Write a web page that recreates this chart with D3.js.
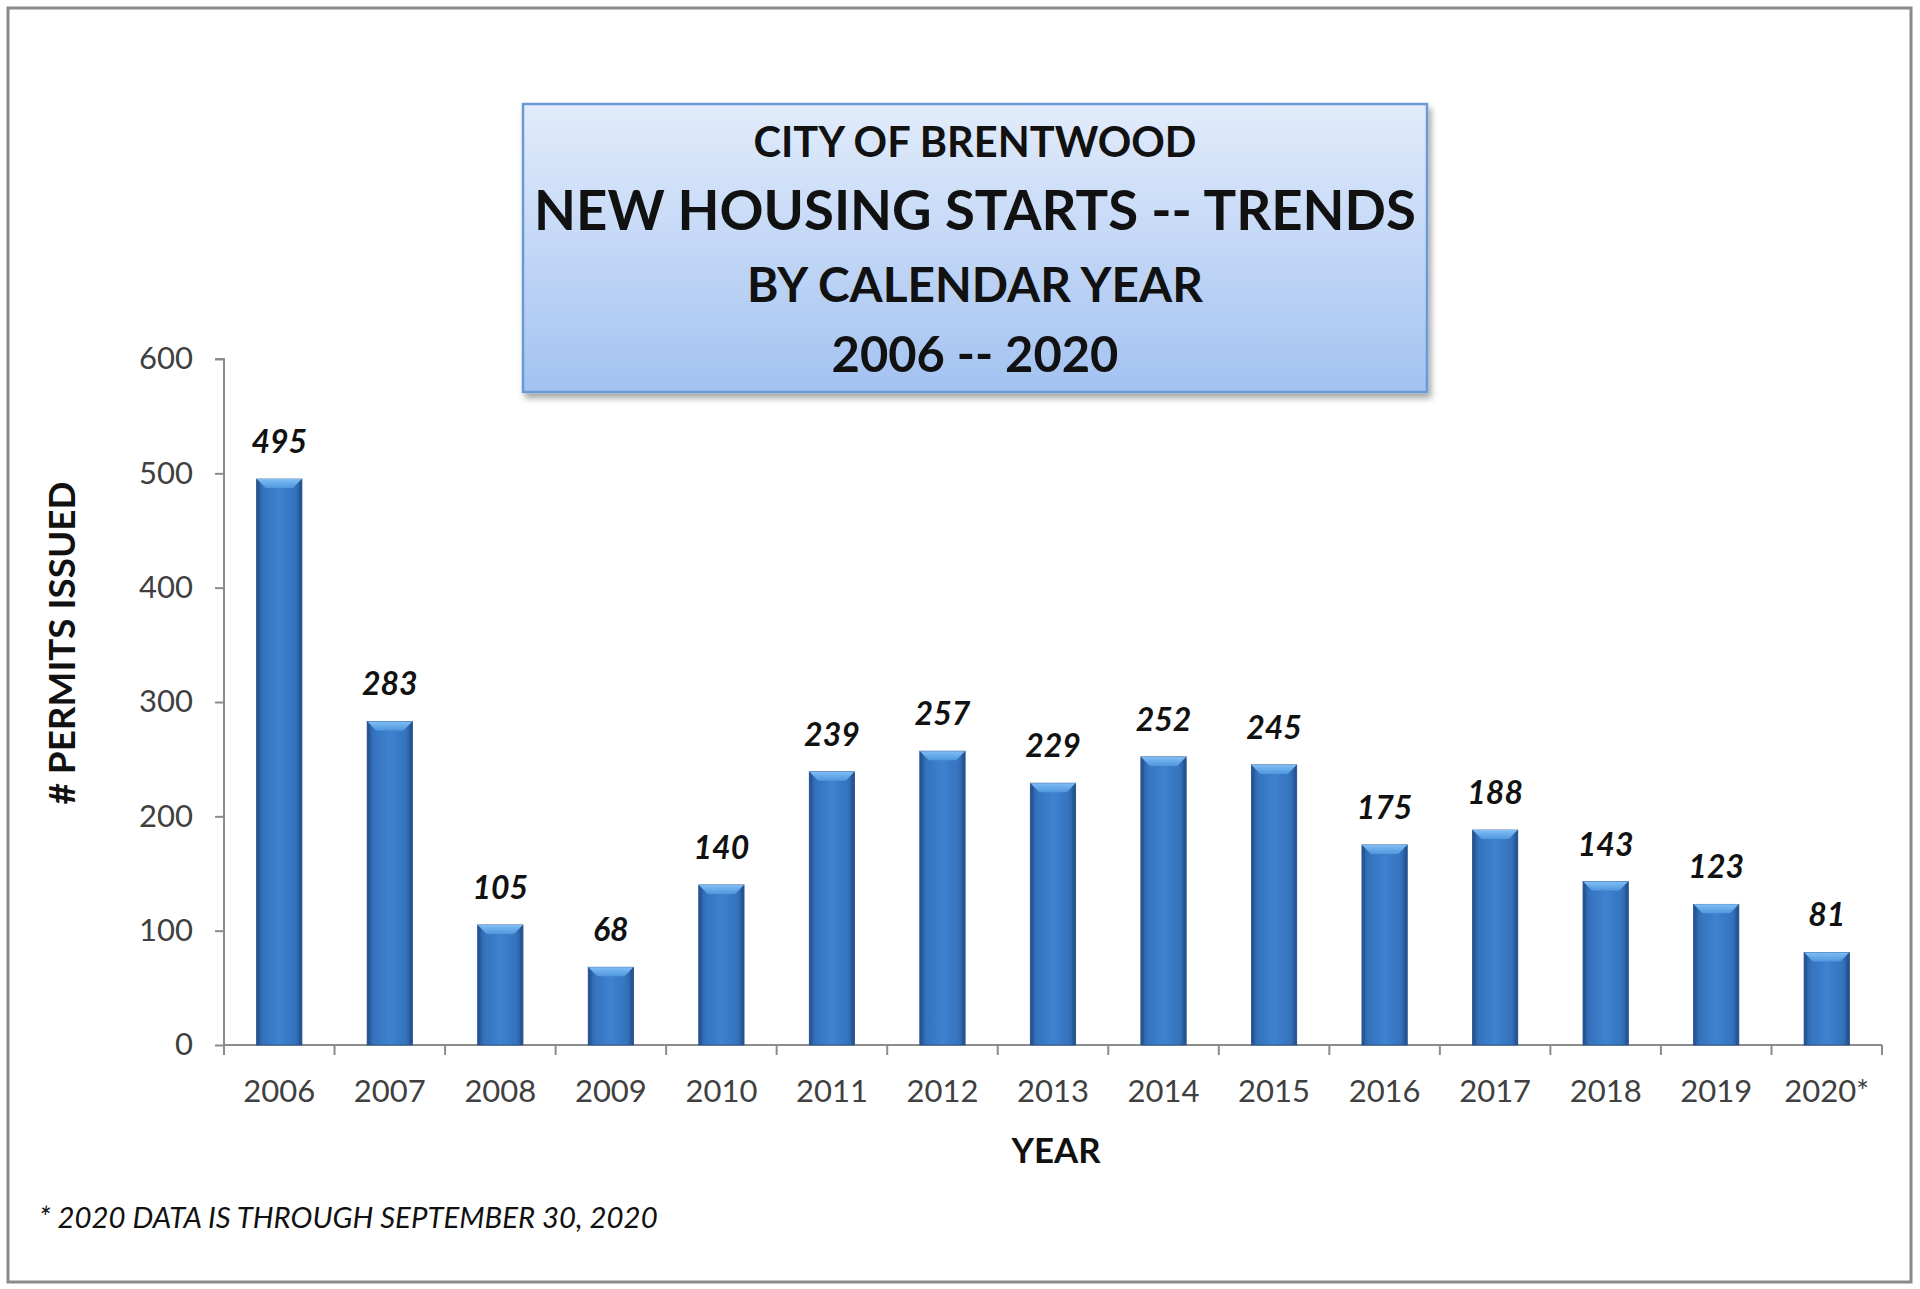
<!DOCTYPE html>
<html>
<head>
<meta charset="utf-8">
<script src="https://cdn.jsdelivr.net/npm/d3@7"></script>
<style>
html,body{margin:0;padding:0;background:#fff;}
svg{display:block;}
text{font-family:Lato,"Open Sans",sans-serif;}
</style>
</head>
<body>
<script>
const years = ["2006","2007","2008","2009","2010","2011","2012","2013","2014","2015","2016","2017","2018","2019","2020*"];
const permits = [495,283,105,68,140,239,257,229,252,245,175,188,143,123,81];
const yTicks = [0,100,200,300,400,500,600];
const titleLines = ["CITY OF BRENTWOOD","NEW HOUSING STARTS -- TRENDS","BY CALENDAR YEAR","2006 -- 2020"];
const yAxisTitle = "# PERMITS ISSUED";
const xAxisTitle = "YEAR";
const footnote = "* 2020 DATA IS THROUGH SEPTEMBER 30, 2020";

const W = 1920, H = 1289;
const svg = d3.select("body").append("svg").attr("width", W).attr("height", H);
const defs = svg.append("defs");

// gradients
const barGrad = defs.append("linearGradient").attr("id","barGrad").attr("x1","0").attr("x2","1").attr("y1","0").attr("y2","0");
barGrad.append("stop").attr("offset","0").attr("stop-color","#28599a");
barGrad.append("stop").attr("offset","0.15").attr("stop-color","#3573bd");
barGrad.append("stop").attr("offset","0.5").attr("stop-color","#3e82d0");
barGrad.append("stop").attr("offset","0.85").attr("stop-color","#3573bd");
barGrad.append("stop").attr("offset","1").attr("stop-color","#265696");
const bevGrad = defs.append("linearGradient").attr("id","bevGrad").attr("x1","0").attr("x2","0").attr("y1","0").attr("y2","1");
bevGrad.append("stop").attr("offset","0").attr("stop-color","#80bef6");
bevGrad.append("stop").attr("offset","1").attr("stop-color","#5097de");
const boxGrad = defs.append("linearGradient").attr("id","boxGrad").attr("x1","0").attr("x2","0").attr("y1","0").attr("y2","1");
boxGrad.append("stop").attr("offset","0").attr("stop-color","#e2ecfb");
boxGrad.append("stop").attr("offset","1").attr("stop-color","#a3c2f1");
const shadow = defs.append("filter").attr("id","shadow").attr("x","-5%").attr("y","-5%").attr("width","115%").attr("height","120%");
shadow.append("feDropShadow").attr("dx",3).attr("dy",5).attr("stdDeviation",3).attr("flood-color","#000").attr("flood-opacity",0.35);

// outer border
svg.append("rect").attr("x",8).attr("y",8).attr("width",1903).attr("height",1274)
  .attr("fill","#fff").attr("stroke","#8a8a8a").attr("stroke-width",3);

// scales
const plot = {left:224, right:1882, top:359, bottom:1045};
const x = d3.scaleBand().domain(years).range([plot.left, plot.right]).paddingInner(0.59).paddingOuter(0.295);
const xb = d3.scaleBand().domain(years).range([plot.left, plot.right]);
const y = d3.scaleLinear().domain([0,600]).range([plot.bottom, plot.top]);

// y axis
const yAxis = svg.append("g").attr("transform",`translate(${plot.left},0)`)
  .call(d3.axisLeft(y).tickValues(yTicks).tickSize(9).tickPadding(22).tickFormat(d3.format("d")));
yAxis.select(".domain").attr("stroke","#8c8c8c").attr("stroke-width",2).attr("d",`M-9,${plot.top}H0V${plot.bottom}`);
yAxis.selectAll(".tick line").attr("stroke","#8c8c8c").attr("stroke-width",2);
yAxis.selectAll(".tick text").attr("font-size",31).attr("fill","#404040").attr("font-family","Lato");

// x axis
const xAxis = svg.append("g").attr("transform",`translate(0,${plot.bottom})`)
  .call(d3.axisBottom(xb).tickSize(0).tickPadding(35));
xAxis.select(".domain").attr("stroke","#8c8c8c").attr("stroke-width",2).attr("d",`M${plot.left},0H${plot.right}`);
xAxis.selectAll(".tick text").attr("font-size",31).attr("fill","#404040").attr("font-family","Lato");
// boundary ticks
svg.append("g").selectAll("line").data(years.concat(["end"])).join("line")
  .attr("x1",(d,i)=> i<years.length ? xb(d) : plot.right)
  .attr("x2",(d,i)=> i<years.length ? xb(d) : plot.right)
  .attr("y1",plot.bottom).attr("y2",plot.bottom+10)
  .attr("stroke","#8c8c8c").attr("stroke-width",2);

// bars
const bars = svg.append("g");
const bw = x.bandwidth();
bars.selectAll("rect.bar").data(permits).join("rect").attr("class","bar")
  .attr("x",(d,i)=>x(years[i])).attr("y",d=>y(d))
  .attr("width",bw).attr("height",d=>plot.bottom-y(d))
  .attr("fill","url(#barGrad)").attr("stroke","#2a5590").attr("stroke-width",0.8);
// top bevel
const bev = 9;
bars.selectAll("path.bev").data(permits).join("path").attr("class","bev")
  .attr("d",(d,i)=>{
    const x0=x(years[i]), x1=x0+bw, t=y(d);
    return `M${x0},${t}H${x1}L${x1-bev},${t+bev}H${x0+bev}Z`;
  }).attr("fill","url(#bevGrad)");
// side edges darker
bars.selectAll("path.side").data(permits).join("path").attr("class","side")
  .attr("d",(d,i)=>{
    const x0=x(years[i]), x1=x0+bw, t=y(d);
    return `M${x0},${t}L${x0+3},${t+3}V${plot.bottom}H${x0}Z M${x1},${t}L${x1-3},${t+3}V${plot.bottom}H${x1}Z`;
  }).attr("fill","#24508c").attr("opacity",0.6);

// value labels
svg.append("g").selectAll("text").data(permits).join("text")
  .attr("x",(d,i)=>x(years[i])+bw/2).attr("y",d=>y(d)-26)
  .attr("text-anchor","middle").attr("font-size",32).attr("font-weight","bold").attr("font-style","italic")
  .attr("fill","#111").text(d=>d);

// axis titles
svg.append("text").attr("transform","translate(75,643) rotate(-90)").attr("text-anchor","middle")
  .attr("font-size",33).attr("font-weight","bold").attr("fill","#111").text(yAxisTitle)
  .each(function(){fit(this,323);});
svg.append("text").attr("x",1056).attr("y",1163).attr("text-anchor","middle")
  .attr("font-size",34).attr("font-weight","bold").attr("fill","#111").text(xAxisTitle)
  .each(function(){fit(this,89);});

// footnote
svg.append("text").attr("x",39).attr("y",1228).attr("font-size",25).attr("font-style","italic")
  .attr("fill","#111").text(footnote).each(function(){fit(this,619);});

// title box
const box = {x:523,y:104,w:904,h:288};
svg.append("rect").attr("x",box.x).attr("y",box.y).attr("width",box.w).attr("height",box.h)
  .attr("fill","url(#boxGrad)").attr("stroke","#6b9ad6").attr("stroke-width",2.5).attr("filter","url(#shadow)");
const titleBase = [157,230,302,372];
const titleWidth = [443,882,456,287];
const titleSize = [40,56,47,51];
svg.append("g").selectAll("text").data(titleLines).join("text")
  .attr("x",box.x+box.w/2).attr("y",(d,i)=>titleBase[i]).attr("text-anchor","middle")
  .attr("font-size",(d,i)=>titleSize[i]).attr("font-weight","bold").attr("fill","#111").text(d=>d)
  .each(function(d,i){fit(this,titleWidth[i]);});

function fit(node, target){
  const fs = +node.getAttribute("font-size");
  const len = node.getComputedTextLength();
  if(len>0){ node.setAttribute("font-size", (fs*target/len).toFixed(2)); }
}
</script>
</body>
</html>
